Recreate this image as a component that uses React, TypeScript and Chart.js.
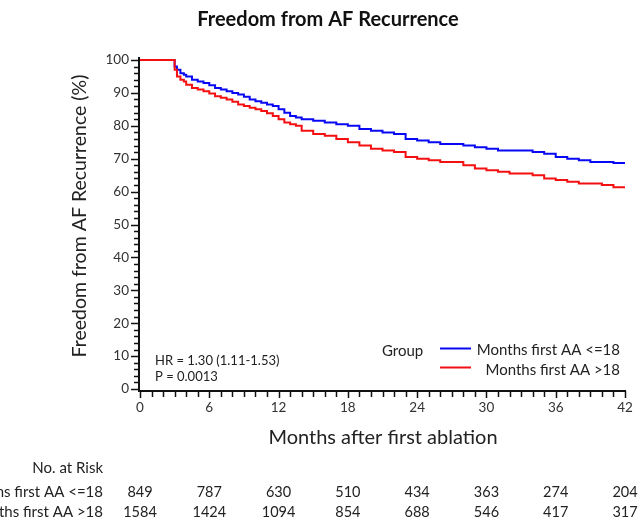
import { useEffect, useRef } from "react";
import { Chart, registerables } from "chart.js";

Chart.register(...registerables);

const months = [0, 3, 3.2, 3.5, 3.8, 4, 4.5, 5, 5.5, 6, 6.5, 7, 7.5, 8, 8.5, 9, 9.5, 10, 10.5, 11, 11.5, 12, 12.5, 13, 13.5, 14, 15, 16, 17, 18, 19, 20, 21, 22, 23, 24, 25, 26, 27, 28, 29, 30, 31, 32, 33, 34, 35, 36, 37, 38, 39, 40, 41, 42];
const survivalLe18 = [100, 100, 98, 97, 96, 95.5, 95, 94, 93.5, 93, 92.3, 91.5, 91, 90.5, 90, 89.5, 88.8, 88, 87.5, 87, 86.5, 86, 85, 84, 83, 82.5, 82, 81.5, 81, 80.5, 80, 79, 78.5, 78, 77.5, 76, 75.5, 75, 74.5, 74.5, 74, 73.5, 73, 72.5, 72.5, 72.5, 72, 71.5, 70.5, 70, 69.5, 69, 69, 68.7];
const survivalGt18 = [100, 100, 97, 95, 94, 93.5, 92.5, 91.5, 91, 90.5, 89.8, 89, 88.5, 88, 87.3, 86.5, 86, 85.5, 85, 84.5, 83.8, 83, 82, 81, 80.5, 80, 78.5, 77.5, 77, 76, 75, 74, 73, 72.5, 72, 70.5, 70, 69.5, 69, 69, 68, 67, 66.5, 66, 65.5, 65.5, 65, 64, 63.5, 63, 62.5, 62.5, 62, 61.3];

const xTicks = [0, 6, 12, 18, 24, 30, 36, 42];
const yTicks = [0, 10, 20, 30, 40, 50, 60, 70, 80, 90, 100];
const riskLe18 = [849, 787, 630, 510, 434, 363, 274, 204];
const riskGt18 = [1584, 1424, 1094, 854, 688, 546, 417, 317];
const groupLabels = ["Months first AA <=18", "Months first AA >18"];
const titleText = "Freedom from AF Recurrence";
const yTitle = "Freedom from AF Recurrence (%)";
const xTitle = "Months after first ablation";
const hrLines = ["HR = 1.30 (1.11-1.53)", "P = 0.0013"];

const BLUE = "#0808f4";
const RED = "#f41010";
const FONT = "Lato, 'Open Sans', sans-serif";

const decorPlugin = {
  id: "decor",
  afterDraw(chart: any) {
    const ctx = chart.ctx;
    const { left, right, top, bottom } = chart.chartArea;
    const xs = chart.scales.x;
    const ys = chart.scales.y;
    ctx.save();
    ctx.strokeStyle = "#111";
    ctx.fillStyle = "#111";
    const ax = left - 1;
    const ay = bottom + 2;
    // axes lines
    ctx.lineWidth = 2;
    ctx.beginPath();
    ctx.moveTo(ax, top - 3);
    ctx.lineTo(ax, ay + 1);
    ctx.moveTo(left, ay);
    ctx.lineTo(right + 1, ay);
    ctx.stroke();
    // y ticks
    ctx.lineWidth = 1.5;
    for (let v = 0; v <= 100; v += 2) {
      const py = Math.round(ys.getPixelForValue(v)) + 0.5;
      const len = v % 10 === 0 ? 8 : 5;
      ctx.beginPath();
      ctx.moveTo(ax - len, py);
      ctx.lineTo(ax, py);
      ctx.stroke();
    }
    // x ticks
    for (let m = 0; m <= 42; m += 1) {
      const px = Math.round(xs.getPixelForValue(m)) + 0.5;
      const len = m % 6 === 0 ? 7 : 6;
      ctx.beginPath();
      ctx.moveTo(px, ay);
      ctx.lineTo(px, ay + len);
      ctx.stroke();
    }
    // tick labels
    ctx.fillStyle = "#333";
    ctx.font = `13.5px ${FONT}`;
    ctx.textAlign = "right";
    ctx.textBaseline = "middle";
    yTicks.forEach((v) => {
      ctx.fillText(String(v), ax - 10, ys.getPixelForValue(v));
    });
    ctx.textAlign = "center";
    ctx.textBaseline = "middle";
    xTicks.forEach((m) => {
      ctx.fillText(String(m), xs.getPixelForValue(m), 408);
    });
    // title
    ctx.fillStyle = "#111";
    ctx.font = `bold 20px ${FONT}`;
    ctx.textAlign = "center";
    ctx.fillText(titleText, 328, 20);
    // axis titles
    ctx.fillStyle = "#222";
    ctx.font = `20px ${FONT}`;
    ctx.fillText(xTitle, 383, 438);
    ctx.save();
    ctx.translate(80, 216);
    ctx.rotate(-Math.PI / 2);
    ctx.font = `19.5px ${FONT}`;
    ctx.fillText(yTitle, 0, 0);
    ctx.restore();
    // HR annotation
    ctx.font = `13px ${FONT}`;
    ctx.textAlign = "left";
    ctx.fillStyle = "#222";
    ctx.fillText(hrLines[0], 155, 361);
    ctx.fillText(hrLines[1], 155, 377);
    // legend
    ctx.font = `15px ${FONT}`;
    ctx.fillStyle = "#222";
    ctx.fillText("Group", 382, 351);
    ctx.lineWidth = 2;
    ctx.strokeStyle = BLUE;
    ctx.beginPath();
    ctx.moveTo(440, 348.5);
    ctx.lineTo(471, 348.5);
    ctx.stroke();
    ctx.strokeStyle = RED;
    ctx.beginPath();
    ctx.moveTo(440, 367.5);
    ctx.lineTo(471, 367.5);
    ctx.stroke();
    ctx.textAlign = "right";
    ctx.fillText(groupLabels[0], 620, 350);
    ctx.fillText(groupLabels[1], 620, 370);
    // risk table
    ctx.font = `15px ${FONT}`;
    ctx.fillStyle = "#222";
    ctx.textAlign = "right";
    ctx.fillText("No. at Risk", 103, 468);
    ctx.fillText(groupLabels[0], 103, 492);
    ctx.fillText(groupLabels[1], 103, 512);
    ctx.textAlign = "center";
    ctx.font = `14.5px ${FONT}`;
    xTicks.forEach((m, i) => {
      const px = xs.getPixelForValue(m);
      ctx.fillText(String(riskLe18[i]), px, 492);
      ctx.fillText(String(riskGt18[i]), px, 512);
    });
    ctx.restore();
  },
};

export default function App() {
  const ref = useRef<HTMLCanvasElement | null>(null);
  useEffect(() => {
    if (!ref.current) return;
    const chart = new Chart(ref.current, {
      type: "line",
      data: {
        datasets: [
          {
            label: groupLabels[1],
            data: months.map((m, i) => ({ x: m, y: survivalGt18[i] })),
            borderColor: RED,
            borderWidth: 2,
            pointRadius: 0,
            stepped: "after",
            fill: false,
            clip: 6,
          },
          {
            label: groupLabels[0],
            data: months.map((m, i) => ({ x: m, y: survivalLe18[i] })),
            borderColor: BLUE,
            borderWidth: 2,
            pointRadius: 0,
            stepped: "after",
            fill: false,
            clip: 6,
          },
        ],
      },
      options: {
        responsive: false,
        animation: false,
        events: [],
        layout: { padding: { left: 140, right: 13, top: 60, bottom: 131 } },
        scales: {
          x: { type: "linear", min: 0, max: 42, display: false },
          y: { type: "linear", min: 0, max: 100, display: false },
        },
        plugins: {
          legend: { display: false },
          tooltip: { enabled: false },
          title: { display: false },
        },
      },
      plugins: [decorPlugin],
    });
    return () => chart.destroy();
  }, []);
  return (
    <div style={{ position: "fixed", left: 0, top: 0, width: 638, height: 520, background: "#fff" }}>
      <canvas ref={ref} width={638} height={520} />
    </div>
  );
}
